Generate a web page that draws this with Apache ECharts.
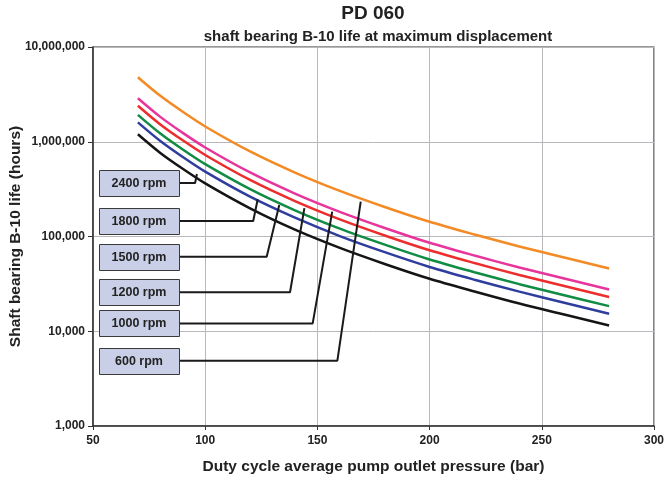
<!DOCTYPE html>
<html>
<head>
<meta charset="utf-8">
<script src="https://cdn.jsdelivr.net/npm/echarts@6/dist/echarts.min.js"></script>
<style>html,body{margin:0;padding:0;background:#fff}#c{width:667px;height:487px}</style>
</head>
<body>
<div id="c"></div>
<script>
const xValues = [70, 80, 90, 100, 120, 140, 160, 180, 200, 220, 240, 260, 280];
const rpm600  = [4800000, 3050000, 2070000, 1450000, 790000, 473000, 303000, 205000, 143000, 105000, 78500, 60000, 46000];
const rpm1000 = [2880000, 1830000, 1240000, 870000, 474000, 284000, 182000, 123000, 85800, 63000, 47100, 36000, 27600];
const rpm1200 = [2400000, 1525000, 1035000, 725000, 395000, 236500, 151500, 102500, 71500, 52500, 39250, 30000, 23000];
const rpm1500 = [1920000, 1220000, 828000, 580000, 316000, 189000, 121000, 82000, 57200, 42000, 31400, 24000, 18400];
const rpm1800 = [1600000, 1017000, 690000, 483000, 263000, 158000, 101000, 68300, 47700, 35000, 26200, 20000, 15300];
const rpm2400 = [1200000, 762000, 518000, 363000, 198000, 118000, 75800, 51300, 35800, 26300, 19600, 15000, 11500];

const xTicks = [50, 100, 150, 200, 250, 300];
const yTicks = [1000, 10000, 100000, 1000000, 10000000];

const labelNames = ['2400 rpm', '1800 rpm', '1500 rpm', '1200 rpm', '1000 rpm', '600 rpm'];
const labelRowY  = [367000, 146000, 61200, 25800, 12100, 4890];
const leaderElbowX = [95.5, 121.4, 127.4, 137.8, 147.9, 158.9];
const leaderTargetX = [96.3, 123.4, 133.0, 144.2, 156.6, 169.3];
const leaderTargetY = [457000, 247000, 215000, 199000, 183000, 233000];
const boxLeftX = 52.7, boxRightX = 88.3;

const FONT = "'Liberation Sans', Arial, sans-serif";
const TXT = '#222';

function pairs(ys){ return xValues.map((x,i)=>[x, ys[i]]); }
function fmt(v){ return Math.round(v).toString().replace(/\B(?=(\d{3})+(?!\d))/g, ','); }

const curveDefs = [
  {name:'600 rpm', data: rpm600, color:'#F38A24'},
  {name:'1000 rpm', data: rpm1000, color:'#E8359C'},
  {name:'1200 rpm', data: rpm1200, color:'#EC2E2E'},
  {name:'1500 rpm', data: rpm1500, color:'#118C45'},
  {name:'1800 rpm', data: rpm1800, color:'#2F3E9E'},
  {name:'2400 rpm', data: rpm2400, color:'#151515'}
];

const series = curveDefs.map(d => ({
  type:'line', name:d.name, data: pairs(d.data), smooth: 0.3, showSymbol:false, symbol:'none',
  lineStyle:{color:d.color, width:2.5}, z:2, silent:true
}));
labelNames.forEach((n,i)=>{
  series.push({
    type:'line', name:'leader'+i, showSymbol:false, symbol:'none', silent:true, z:3,
    data:[[boxRightX, labelRowY[i]], [leaderElbowX[i], labelRowY[i]], [leaderTargetX[i], leaderTargetY[i]]],
    lineStyle:{color:'#1a1a1a', width:2}
  });
});

const chart = echarts.init(document.getElementById('c'), null, {renderer:'canvas'});
chart.setOption({
  backgroundColor:'#fff',
  animation:false,
  grid:{left:93, right:13, top:47, bottom:61, containLabel:false, outerBoundsMode:'none',
        show:true, borderColor:'#333', borderWidth:1.2, backgroundColor:'transparent'},
  xAxis:{
    type:'value', min:50, max:300, interval:50,
    name:'Duty cycle average pump outlet pressure (bar)', nameLocation:'middle', nameGap:33, nameMoveOverlap:false,
    nameTextStyle:{fontFamily:FONT, fontWeight:'bold', fontSize:15.5, color:TXT},
    axisLine:{show:true, lineStyle:{color:'#333', width:1.5}},
    axisTick:{show:true, inside:false, length:4, lineStyle:{color:'#333'}},
    axisLabel:{fontFamily:FONT, fontWeight:'bold', fontSize:12, color:TXT, margin:9},
    splitLine:{show:true, lineStyle:{color:'#B8B8BC', width:1}}
  },
  yAxis:{
    type:'log', logBase:10, min:1000, max:10000000,
    name:'Shaft bearing B-10 life (hours)', nameLocation:'middle', nameGap:69, nameRotate:90, nameMoveOverlap:false,
    nameTextStyle:{fontFamily:FONT, fontWeight:'bold', fontSize:15.5, color:TXT},
    axisLine:{show:true, lineStyle:{color:'#333', width:1.5}},
    axisTick:{show:true, inside:false, length:5, lineStyle:{color:'#333'}},
    minorTick:{show:false},
    axisLabel:{fontFamily:FONT, fontWeight:'bold', fontSize:12, color:TXT, margin:8, formatter:v=>fmt(v)},
    splitLine:{show:true, lineStyle:{color:'#B8B8BC', width:1}}
  },
  series: series
});

function placeGraphics(){
  const g = [];
  g.push({type:'text', x:373, y:14, style:{text:'PD 060', font:"bold 19px "+FONT, fill:TXT, textAlign:'center', textVerticalAlign:'middle'}});
  g.push({type:'text', x:378, y:37, style:{text:'shaft bearing B-10 life at maximum displacement', font:"bold 15px "+FONT, fill:TXT, textAlign:'center', textVerticalAlign:'middle'}});
  labelNames.forEach((n,i)=>{
    const pR = chart.convertToPixel({gridIndex:0}, [boxRightX, labelRowY[i]]);
    const pL = chart.convertToPixel({gridIndex:0}, [boxLeftX, labelRowY[i]]);
    const h = 26;
    g.push({type:'rect', z:10, shape:{x:Math.round(pL[0])+0.5, y:Math.round(pR[1]-h/2)+0.5, width:Math.round(pR[0]-pL[0]), height:h},
      style:{fill:'#C9CFE7', stroke:'#3a3a3a', lineWidth:1}});
    g.push({type:'text', z:11, x:(pL[0]+pR[0])/2, y:pR[1]+0.5, style:{text:n, font:"bold 12.5px "+FONT, fill:TXT, textAlign:'center', textVerticalAlign:'middle'}});
  });
  chart.setOption({graphic:g});
}
placeGraphics();
</script>
</body>
</html>
